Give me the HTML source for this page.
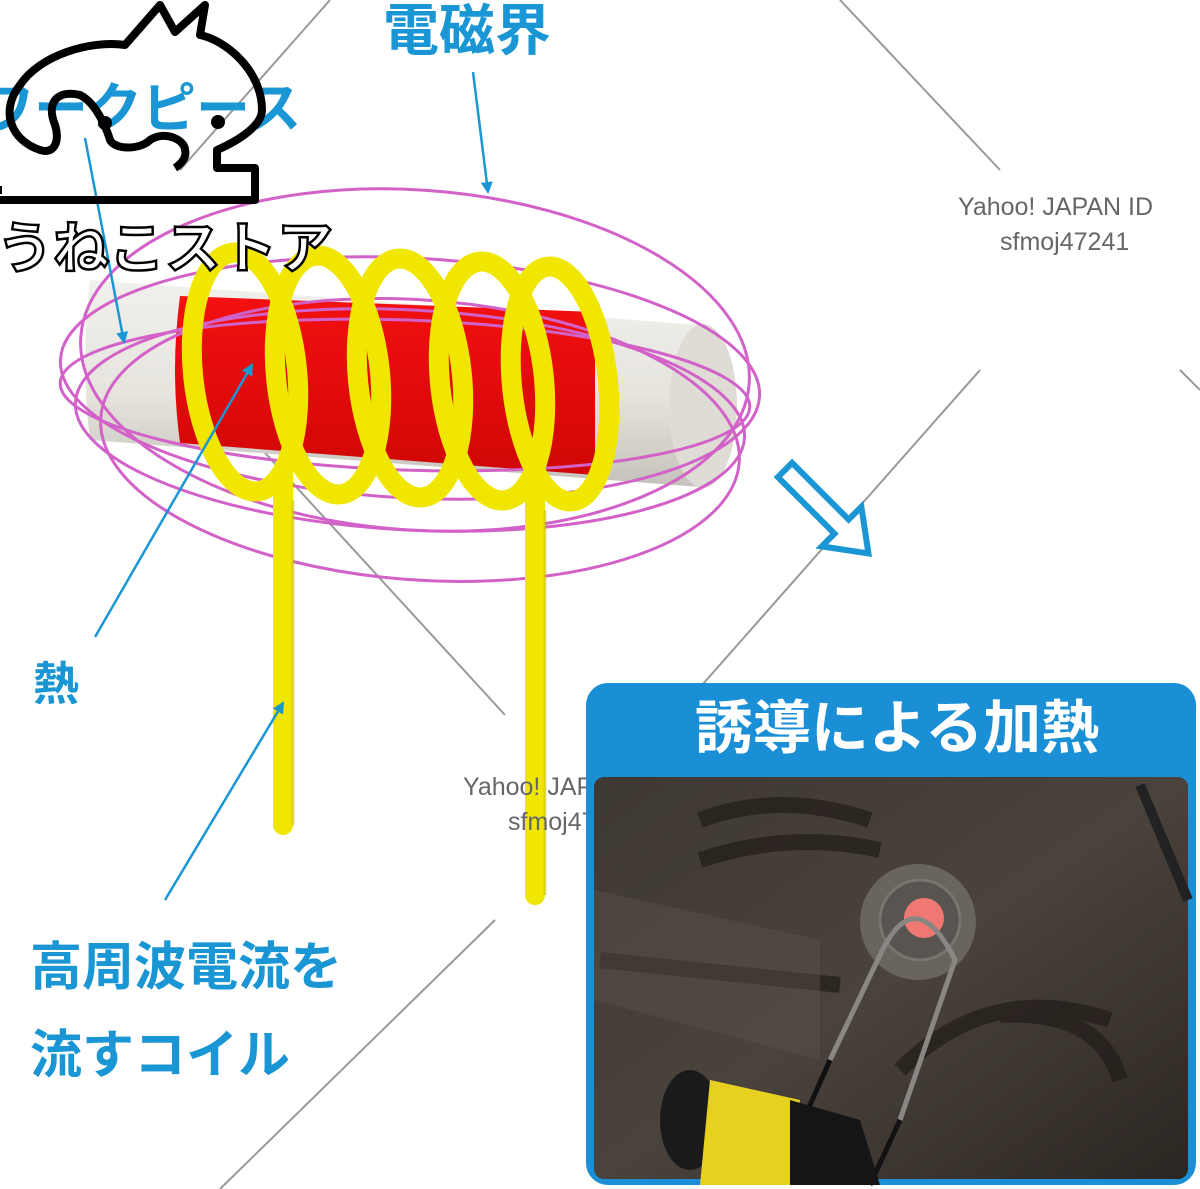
<!DOCTYPE html>
<html><head><meta charset="utf-8"><style>
html,body{margin:0;padding:0;background:#fff;width:1200px;height:1189px;overflow:hidden}
text{font-family:"Liberation Sans","Noto Sans CJK JP",sans-serif}
</style></head><body>
<svg width="1200" height="1189" viewBox="0 0 1200 1189" xmlns="http://www.w3.org/2000/svg">
<defs>
<linearGradient id="cyl" x1="0" y1="0" x2="0" y2="1">
<stop offset="0" stop-color="#f2f0ec"/><stop offset="0.55" stop-color="#e6e4dd"/><stop offset="1" stop-color="#c4c2bb"/></linearGradient>
<linearGradient id="red" x1="0" y1="0" x2="0" y2="1">
<stop offset="0" stop-color="#f41010"/><stop offset="1" stop-color="#d00606"/></linearGradient>
<linearGradient id="photo" x1="0" y1="0" x2="1" y2="1">
<stop offset="0" stop-color="#3e3832"/><stop offset="0.5" stop-color="#4a433c"/><stop offset="1" stop-color="#2c2622"/></linearGradient>
<marker id="ah" markerWidth="12" markerHeight="12" refX="10" refY="6" orient="auto" markerUnits="userSpaceOnUse"><path d="M0,0 L12,6 L0,12 z" fill="#1a96d4"/></marker>
</defs>
<!-- watermark diagonals -->
<g stroke="#777" stroke-width="2" opacity="0.75">
<line x1="840" y1="0" x2="1000" y2="170"/>
<line x1="180" y1="360" x2="505" y2="715"/>
<line x1="980" y1="370" x2="680" y2="710"/>
<line x1="1180" y1="370" x2="1200" y2="390"/>
<line x1="495" y1="920" x2="220" y2="1189"/>
<line x1="330" y1="0" x2="180" y2="170"/>
</g>
<!-- cylinder -->
<path d="M90,280 L700,325 L700,487 L90,440 Q80,360 90,280z" fill="url(#cyl)"/>
<ellipse cx="703" cy="406" rx="34" ry="82" fill="#dedcd5"/>
<path d="M180,296 L595,312 L595,475 L180,443 Q170,370 180,296z" fill="url(#red)"/>
<!-- magenta field -->
<g fill="none" stroke="#d262c8" stroke-width="3">
<ellipse cx="415" cy="360" rx="335" ry="170" transform="rotate(4 415 360)"/>
<ellipse cx="410" cy="378" rx="350" ry="120" transform="rotate(3 410 378)"/>
<ellipse cx="405" cy="395" rx="345" ry="75" transform="rotate(2 405 395)"/>
<ellipse cx="410" cy="420" rx="335" ry="110" transform="rotate(3 410 420)"/>
<ellipse cx="420" cy="440" rx="320" ry="140" transform="rotate(4 420 440)"/>
</g>
<!-- coil -->
<g fill="none" stroke="#f0e600" stroke-width="20" stroke-linecap="round">
<ellipse cx="245" cy="372" rx="52" ry="120" transform="rotate(-6 245 372)"/>
<ellipse cx="328" cy="375" rx="52" ry="120" transform="rotate(-6 328 375)"/>
<ellipse cx="410" cy="378" rx="52" ry="120" transform="rotate(-6 410 378)"/>
<ellipse cx="492" cy="381" rx="52" ry="120" transform="rotate(-6 492 381)"/>
<ellipse cx="560" cy="384" rx="48" ry="118" transform="rotate(-6 560 384)"/>
<line x1="283" y1="475" x2="283" y2="825"/>
<line x1="535" y1="490" x2="535" y2="895"/>
</g>
<g fill="none" stroke="#c8b800" stroke-width="3" opacity="0.5">
<line x1="293" y1="500" x2="293" y2="825"/>
<line x1="545" y1="510" x2="545" y2="895"/>
</g>
<!-- blue pointer arrows -->
<g stroke="#1a96d4" stroke-width="2.5" fill="none" marker-end="url(#ah)">
<line x1="473" y1="72" x2="488" y2="192"/>
<line x1="85" y1="138" x2="124" y2="342"/>
<line x1="95" y1="637" x2="252" y2="365"/>
<line x1="165" y1="900" x2="283" y2="703"/>
</g>
<!-- hollow arrow -->
<g transform="translate(785,470) rotate(45)">
<path d="M0,-10 L80,-10 L80,-28 L118,0 L80,28 L80,10 L0,10z" fill="#fff" stroke="#1a96d4" stroke-width="6"/>
</g>
<!-- texts -->
<g fill="#1a96d4" font-weight="bold">
<text x="383" y="50" font-size="56">電磁界</text>
<text x="-20" y="127" font-size="54">ワークピース</text>
<text x="33" y="700" font-size="46">熱</text>
<text x="30" y="985" font-size="52">高周波電流を</text>
<text x="30" y="1073" font-size="52">流すコイル</text>
</g>
<g fill="#666" font-size="25">
<text x="958" y="215">Yahoo! JAPAN ID</text>
<text x="1000" y="250">sfmoj47241</text>
<text x="463" y="795">Yahoo! JAPAN ID</text>
<text x="508" y="830">sfmoj47241</text>
</g>
<!-- logo -->
<g fill="none" stroke="#000" stroke-width="8" stroke-linejoin="round">
<path d="M2,190 L0,190 M0,200 L255,200 L255,168 L217,168 L217,150 C240,140 262,125 262,110 C262,70 225,40 200,35 L205,5 L175,32 L160,5 L125,45 C90,40 40,55 20,85 C0,110 10,140 40,150 C55,155 60,140 55,125 C45,100 60,90 80,95 C100,105 110,140 110,140 C115,150 140,150 150,140 C165,130 185,140 185,150 C188,160 175,168 175,168"/>
</g>
<circle cx="105" cy="123" r="7" fill="#000"/><circle cx="218" cy="122" r="7" fill="#000"/>
<text x="-3" y="268" font-size="56" fill="#fff" stroke="#000" stroke-width="2.5" font-weight="bold">うねこストア</text>
<!-- box -->
<rect x="586" y="683" width="610" height="502" rx="22" fill="#1a8fd6"/>
<rect x="594" y="777" width="594" height="402" rx="10" fill="url(#photo)"/>
<g opacity="0.7" fill="none" stroke="#221c18" stroke-width="16">
<path d="M700,820 Q780,790 870,820"/>
<path d="M700,860 Q790,830 880,850"/>
<path d="M600,960 L840,985"/>
<path d="M1000,1015 Q1100,1010 1120,1080"/>
<path d="M900,1070 Q990,980 1110,1020"/>
</g>
<path d="M594,890 L820,940 L820,1060 L594,1000z" fill="#5a524a" opacity="0.45"/>
<path d="M1140,785 L1188,900" stroke="#222" stroke-width="10"/>
<circle cx="918" cy="922" r="58" fill="#6a645e"/>
<circle cx="920" cy="920" r="40" fill="#5a5450" stroke="#7a746e" stroke-width="3"/>
<circle cx="924" cy="918" r="20" fill="#f07872"/>
<g stroke="#8a8682" stroke-width="5" fill="none">
<path d="M830,1060 L880,955 Q915,880 955,960 L900,1120"/>
</g>
<g stroke="#111" stroke-width="5"><line x1="830" y1="1060" x2="790" y2="1150"/><line x1="900" y1="1120" x2="870" y2="1185"/></g>
<ellipse cx="690" cy="1120" rx="30" ry="50" fill="#1a1a1a"/>
<path d="M710,1080 L800,1100 L790,1185 L700,1185z" fill="#e6d020"/>
<path d="M790,1100 L860,1120 L880,1185 L790,1185z" fill="#151515"/>
<text x="897" y="748" font-size="58" fill="#fff" font-weight="bold" text-anchor="middle">誘導による加熱</text>
</svg>
</body></html>
